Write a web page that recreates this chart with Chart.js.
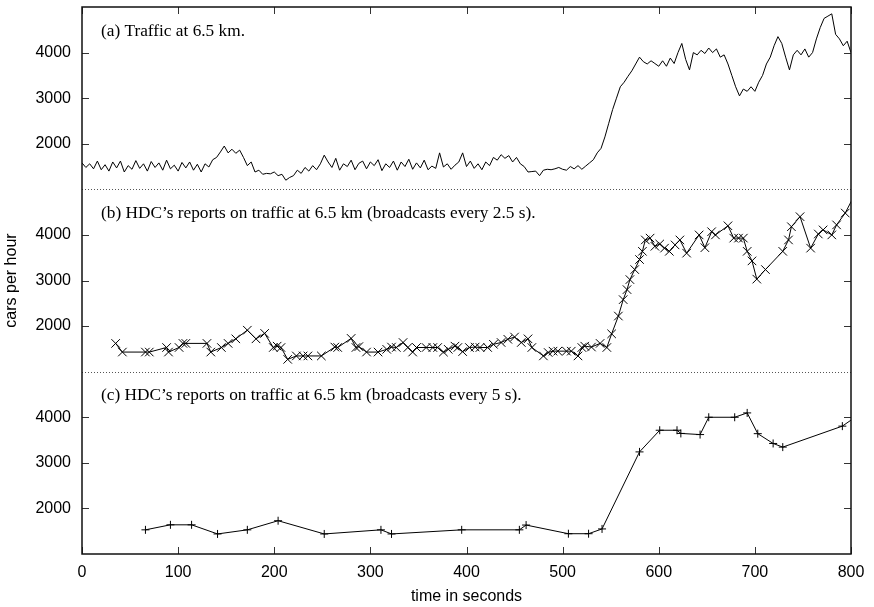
<!DOCTYPE html>
<html>
<head>
<meta charset="utf-8">
<script src="https://cdn.jsdelivr.net/npm/chart.js@4.4.1/dist/chart.umd.min.js"></script>
<style>
  html, body { margin: 0; padding: 0; background: #fff; }
  #wrap { width: 874px; height: 607px; }
</style>
</head>
<body>
<div id="wrap"><canvas id="trafficChart" width="874" height="607"></canvas></div>
<script>
// (a) measured traffic, one reading every 4 s
const timeA = [
  0, 4, 8, 12, 16, 20, 24, 28, 32, 36, 40, 44, 48, 52, 56, 60, 64, 68, 72, 76,
  80, 84, 88, 92, 96, 100, 104, 108, 112, 116, 120, 124, 128, 132, 136, 140, 144, 148, 152, 156,
  160, 164, 168, 172, 176, 180, 184, 188, 192, 196, 200, 204, 208, 212, 216, 220, 224, 228, 232, 236,
  240, 244, 248, 252, 256, 260, 264, 268, 272, 276, 280, 284, 288, 292, 296, 300, 304, 308, 312, 316,
  320, 324, 328, 332, 336, 340, 344, 348, 352, 356, 360, 364, 368, 372, 376, 380, 384, 388, 392, 396,
  400, 404, 408, 412, 416, 420, 424, 428, 432, 436, 440, 444, 448, 452, 456, 460, 464, 468, 472, 476,
  480, 484, 488, 492, 496, 500, 504, 508, 512, 516, 520, 524, 528, 532, 536, 540, 544, 548, 552, 556,
  560, 564, 568, 572, 576, 580, 584, 588, 592, 596, 600, 604, 608, 612, 616, 620, 624, 628, 632, 636,
  640, 644, 648, 652, 656, 660, 664, 668, 672, 676, 680, 684, 688, 692, 696, 700, 704, 708, 712, 716,
  720, 724, 728, 732, 736, 740, 744, 748, 752, 756, 760, 764, 768, 772, 776, 780, 784, 788, 792, 796,
  800
];
const flowA = [
  1580, 1480, 1560, 1450, 1620, 1430, 1540, 1400, 1600, 1470, 1620, 1380, 1520, 1440, 1630, 1460, 1560, 1400, 1610, 1480,
  1580, 1420, 1640, 1450, 1530, 1400, 1590, 1470, 1600, 1420, 1550, 1380, 1560, 1490, 1650, 1700, 1820, 1950, 1800, 1880,
  1790, 1860, 1700, 1520, 1600, 1380, 1420, 1330, 1350, 1340, 1380, 1300, 1330, 1200, 1260, 1300, 1420, 1350, 1480, 1400,
  1520, 1430, 1560, 1750, 1600, 1480, 1680, 1420, 1560, 1500, 1640, 1430, 1570, 1620, 1450, 1600, 1520, 1650, 1410, 1560,
  1480, 1620, 1420, 1600, 1500, 1660, 1440, 1580, 1470, 1640, 1430, 1510, 1460, 1800, 1490, 1560, 1440, 1530, 1600, 1800,
  1500, 1620, 1460, 1560, 1430, 1600, 1520, 1700, 1640, 1760, 1680, 1740, 1600, 1700, 1560, 1500, 1380, 1390, 1400, 1300,
  1420, 1440, 1430, 1450, 1480, 1440, 1420, 1500, 1450, 1520, 1440, 1510, 1580, 1650, 1800, 1900, 2150, 2450, 2750, 3000,
  3250, 3350, 3480, 3600, 3750, 3900, 3800, 3750, 3820, 3760, 3700, 3820, 3700, 3880, 3760, 4000, 4200, 3850, 3620, 4000,
  3950, 4050, 3980, 4100, 4000, 4080, 3900, 3950, 3750, 3500, 3250, 3050, 3200, 3150, 3250, 3150, 3350, 3500, 3750, 3900,
  4150, 4350, 4200, 3900, 3620, 3950, 4050, 3950, 4080, 3900, 4000, 4300, 4550, 4750, 4800, 4850, 4400, 4300, 4150, 4250,
  4000
];

// (b) reports, broadcasts every 2.5 s
const timeB = [
  35, 42, 66, 70, 88, 90, 101, 105, 108, 130, 134, 145, 152, 160, 172, 181, 190, 199, 203, 207,
  214, 223, 230, 235, 249, 263, 266, 280, 285, 288, 296, 308, 317, 322, 327, 334, 339, 344, 348, 358,
  365, 370, 376, 381, 388, 391, 396, 403, 409, 414, 422, 428, 436, 443, 450, 457, 464, 468, 480, 485,
  490, 495, 504, 509, 516, 520, 523, 530, 539, 546, 551, 558, 563, 567, 570, 575, 580, 583, 586, 591,
  596, 601, 606, 611, 617, 622, 629, 642, 648, 655, 659, 672, 678, 683, 688, 692, 697, 702, 711, 729,
  735, 738, 747, 758, 766, 771, 780, 785, 794, 805
];
const reportB = [
  1620, 1430, 1430, 1430, 1530, 1430, 1530, 1620, 1620, 1620, 1430, 1530, 1620, 1720, 1910, 1720, 1840, 1530, 1560, 1530,
  1270, 1345, 1345, 1345, 1345, 1540, 1530, 1730, 1530, 1550, 1430, 1430, 1490, 1540, 1530, 1640, 1530, 1430, 1530, 1530,
  1530, 1530, 1430, 1490, 1560, 1530, 1440, 1530, 1540, 1530, 1530, 1600, 1640, 1710, 1760, 1640, 1720, 1530, 1345, 1420,
  1450, 1450, 1450, 1450, 1345, 1530, 1560, 1540, 1620, 1530, 1830, 2220, 2580, 2800, 3020, 3240, 3460, 3640, 3890, 3930,
  3750, 3800, 3710, 3640, 3780, 3890, 3600, 4000, 3720, 4070, 4000, 4200, 3930, 3930, 3930, 3640, 3430, 3030, 3240, 3640,
  3890, 4180, 4400, 3710, 4020, 4110, 4000, 4220, 4480, 4930
];

// (c) reports, broadcasts every 5 s
const timeC = [66, 92, 114, 141, 172, 204, 252, 311, 322, 395, 455, 462, 506, 527, 541, 580, 601, 619, 623, 643, 652, 679, 692, 703, 719, 729, 791, 805];
const reportC = [1530, 1640, 1640, 1440, 1530, 1730, 1440, 1530, 1440, 1530, 1530, 1635, 1445, 1445, 1550, 3240, 3715, 3715, 3645, 3620, 4000, 4000, 4095, 3640, 3425, 3345, 3805, 4010];

const xTickValues = [0, 100, 200, 300, 400, 500, 600, 700, 800];
const yTickValues = [2000, 3000, 4000];
const panelTitles = [
  "(a) Traffic at 6.5 km.",
  "(b) HDC\u2019s reports on traffic at 6.5 km (broadcasts every 2.5 s).",
  "(c) HDC\u2019s reports on traffic at 6.5 km (broadcasts every 5 s)."
];

const sansFont = { family: "'Liberation Sans', Arial, Helvetica, sans-serif", size: 16 };

function pairs(xs, ys) {
    return xs.map((x, i) => ({ x: x, y: ys[i] }));
}

// one y axis per panel, all stacked on the left
function panelAxis(withTitle) {
    return {
        type: 'linear',
        position: 'left',
        stack: 'panels',
        stackWeight: 1,
        min: 1000,
        max: 5000,
        afterBuildTicks: s => { s.ticks = yTickValues.map(v => ({ value: v })); },
        afterFit: s => {
            s.width = 82;
            s.paddingTop = 0;
            s.paddingBottom = 0;
        },
        grid: { display: false, drawTicks: false },
        border: { display: false },
        ticks: { font: sansFont, color: '#000', padding: 11, callback: v => String(v) },
        title: {
            display: withTitle,
            text: 'cars per hour',
            font: sansFont,
            color: '#000',
            padding: { top: 2, bottom: 0 }
        }
    };
}

// frame, inward tick marks, dotted panel separators and panel captions
const panelFrame = {
    id: 'panelFrame',
    afterDatasetsDraw(chart) {
        const { ctx, chartArea: area, scales } = chart;
        const panels = [scales.yA, scales.yB, scales.yC];
        ctx.save();

        ctx.strokeStyle = '#555';
        ctx.lineWidth = 1;
        ctx.setLineDash([1, 2]);
        [scales.yB, scales.yC].forEach(s => {
            const y = Math.round(s.top) + 0.5;
            ctx.beginPath();
            ctx.moveTo(area.left, y);
            ctx.lineTo(area.right, y);
            ctx.stroke();
        });
        ctx.setLineDash([]);

        ctx.strokeStyle = '#333';
        ctx.beginPath();
        panels.forEach(s => {
            yTickValues.forEach(v => {
                const y = Math.round(s.getPixelForValue(v)) + 0.5;
                ctx.moveTo(area.left, y);
                ctx.lineTo(area.left + 7, y);
                ctx.moveTo(area.right - 7, y);
                ctx.lineTo(area.right, y);
            });
        });
        xTickValues.forEach(v => {
            const x = Math.round(scales.x.getPixelForValue(v)) + 0.5;
            ctx.moveTo(x, area.bottom);
            ctx.lineTo(x, area.bottom - 7);
            ctx.moveTo(x, area.top);
            ctx.lineTo(x, area.top + 7);
        });
        ctx.stroke();

        ctx.strokeStyle = '#111';
        ctx.lineWidth = 1.5;
        ctx.strokeRect(area.left, area.top, area.right - area.left, area.bottom - area.top);

        ctx.font = "17.3px 'Liberation Serif', 'Times New Roman', serif";
        ctx.fillStyle = '#000';
        ctx.textBaseline = 'middle';
        ctx.textAlign = 'left';
        panels.forEach((s, i) => {
            ctx.fillText(panelTitles[i], area.left + 19, s.top + 24);
        });
        ctx.restore();
    }
};

new Chart(document.getElementById('trafficChart'), {
    type: 'line',
    data: {
        datasets: [
            {
                data: pairs(timeA, flowA),
                yAxisID: 'yA',
                borderColor: '#000',
                borderWidth: 1,
                pointRadius: 0
            },
            {
                data: pairs(timeB, reportB),
                yAxisID: 'yB',
                borderColor: '#000',
                borderWidth: 1,
                pointStyle: 'crossRot',
                pointRadius: 6,
                pointBorderColor: '#000',
                pointBorderWidth: 1
            },
            {
                data: pairs(timeC, reportC),
                yAxisID: 'yC',
                borderColor: '#000',
                borderWidth: 1,
                pointStyle: 'cross',
                pointRadius: 4,
                pointBorderColor: '#000',
                pointBorderWidth: 1
            }
        ]
    },
    options: {
        responsive: false,
        animation: false,
        devicePixelRatio: 1,
        layout: { padding: { top: 6, right: 23, bottom: 0, left: 0 } },
        elements: { line: { tension: 0 } },
        plugins: {
            legend: { display: false },
            tooltip: { enabled: false }
        },
        scales: {
            x: {
                type: 'linear',
                min: 0,
                max: 800,
                afterBuildTicks: s => { s.ticks = xTickValues.map(v => ({ value: v })); },
                afterFit: s => { s.height = 53; },
                grid: { display: false, drawTicks: false },
                border: { display: false },
                ticks: { font: sansFont, color: '#000', padding: 9, maxRotation: 0, autoSkip: false, callback: v => String(v) },
                title: {
                    display: true,
                    text: 'time in seconds',
                    font: sansFont,
                    color: '#000',
                    padding: { top: 0, bottom: 1 }
                }
            },
            yC: panelAxis(false),
            yB: panelAxis(true),
            yA: panelAxis(false)
        }
    },
    plugins: [panelFrame]
});
</script>
</body>
</html>
